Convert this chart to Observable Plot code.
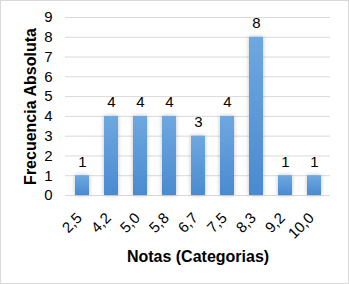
<!DOCTYPE html>
<html>
<head>
<meta charset="utf-8">
<script src="https://cdn.jsdelivr.net/npm/d3@7"></script>
<script src="https://cdn.jsdelivr.net/npm/@observablehq/plot@0.6"></script>
<style>
  body { margin: 0; background: #fff; }
  #chart svg { display: block; outline: 1px solid #d9d9d9; outline-offset: -1px; }
</style>
</head>
<body>
<div id="chart"></div>
<script>
const categories = ["2,5", "4,2", "5,0", "5,8", "6,7", "7,5", "8,3", "9,2", "10,0"];
const frequencies = [1, 4, 4, 4, 3, 4, 8, 1, 1];
const yTicks = [0, 1, 2, 3, 4, 5, 6, 7, 8, 9];

const data = categories.map((c, i) => ({ nota: c, freq: frequencies[i] }));

const defs = () => {
  const d = d3.create("svg:defs");
  const g = d.append("linearGradient").attr("id", "barGrad").attr("x1", 0).attr("y1", 0).attr("x2", 0).attr("y2", 1);
  g.append("stop").attr("offset", "0%").attr("stop-color", "#6ea8e0");
  g.append("stop").attr("offset", "100%").attr("stop-color", "#4a8ad0");
  const f = d.append("filter").attr("id", "shadow").attr("x", "-50%").attr("y", "-20%").attr("width", "200%").attr("height", "140%");
  f.append("feDropShadow").attr("dx", 0).attr("dy", 0).attr("stdDeviation", 2).attr("flood-color", "#000").attr("flood-opacity", 0.25);
  return d.node();
};

const chart = Plot.plot({
  width: 349,
  height: 284,
  marginLeft: 65,
  marginRight: 19,
  marginTop: 17,
  marginBottom: 89,
  style: { fontFamily: "'Liberation Sans', Arial, sans-serif", fontSize: "15px", color: "#000", background: "#fff" },
  x: { domain: categories, paddingInner: 0.52, paddingOuter: 0.26, label: null },
  y: { domain: [0, 9], label: null },
  marks: [
    defs,
    Plot.ruleY(yTicks, { stroke: "#d9d9d9", strokeWidth: 1 }),
    Plot.barY(data, { x: "nota", y: "freq", fill: "url(#barGrad)" }),
    Plot.text(data, { x: "nota", y: "freq", text: d => String(d.freq), dy: -14, fontSize: 15, fill: "#000" }),
    Plot.axisY({ ticks: yTicks, tickSize: 0, tickPadding: 13, fontSize: 15, label: null }),
    Plot.axisX({ tickSize: 0, tickPadding: 8, tickRotate: -45, fontSize: 15, dx: -3, dy: 12, label: null }),
    Plot.text(["Notas (Categorias)"], { frameAnchor: "bottom", dy: 66, fontSize: 16, fontWeight: "bold", fill: "#000" }),
    Plot.text(["Frecuencia Absoluta"], { frameAnchor: "left", textAnchor: "middle", dx: -35, rotate: -90, fontSize: 16, fontWeight: "bold", fill: "#000" })
  ]
});
d3.select(chart).selectAll("g[aria-label='bar'] rect").attr("filter", "url(#shadow)");
document.getElementById("chart").appendChild(chart);
</script>
</body>
</html>
